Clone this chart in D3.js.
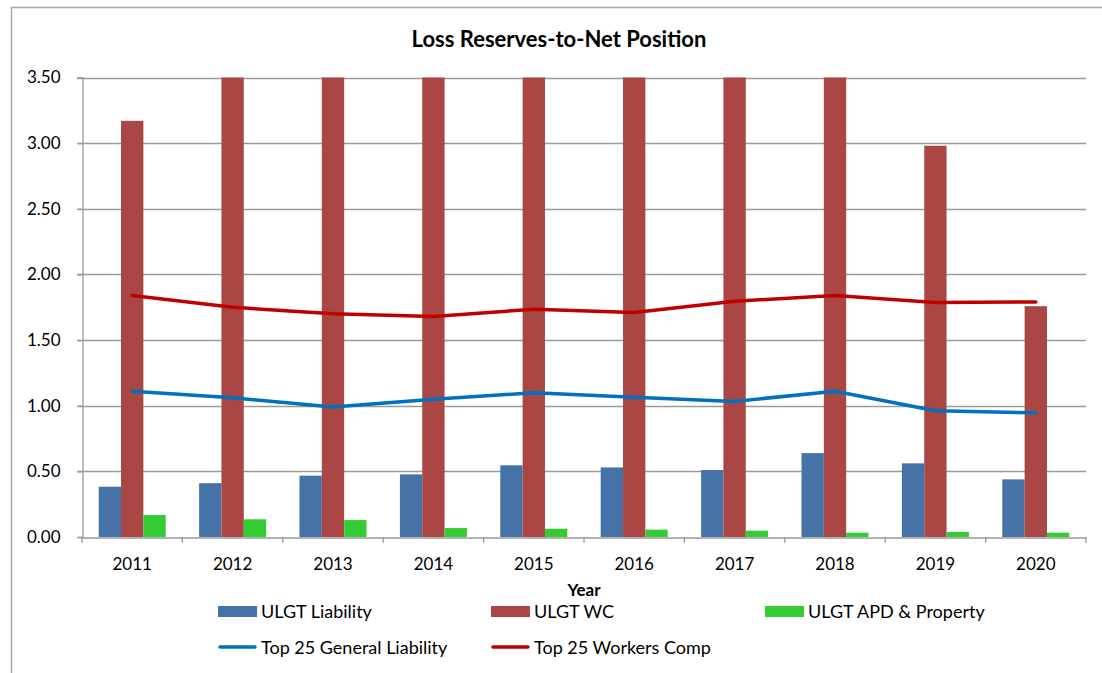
<!DOCTYPE html>
<html><head><meta charset="utf-8">
<script src="https://cdn.jsdelivr.net/npm/d3@7"></script>
<style>body{margin:0;background:#fff}text{font-family:Lato,"Open Sans",sans-serif;fill:#000}</style>
</head><body><svg id="c" width="1102" height="673"></svg>
<script>
const years = ["2011","2012","2013","2014","2015","2016","2017","2018","2019","2020"];
const ulgtLiability = [0.383,0.41,0.467,0.477,0.546,0.53,0.51,0.639,0.561,0.439];
const ulgtWC = [3.17,3.5,3.5,3.5,3.5,3.5,3.5,3.5,2.98,1.758];
const ulgtAPD = [0.167,0.135,0.129,0.068,0.063,0.056,0.048,0.033,0.038,0.033];
const top25GL = [1.11,1.06,0.99,1.05,1.098,1.065,1.033,1.11,0.961,0.946];
const top25WC = [1.84,1.75,1.70,1.68,1.735,1.71,1.795,1.84,1.786,1.79];
const yTicks = [0,0.5,1,1.5,2,2.5,3,3.5];

const svg = d3.select("#c");
const L=82,R=1086,T=77.5,B=537;
const x = d3.scaleBand().domain(years).range([L,R]).paddingInner(0).paddingOuter(0);
const y = d3.scaleLinear().domain([0,3.5]).range([B,T]).clamp(true);
const grid="#9a9a9a";

// outer border
svg.append("path").attr("d","M11.5,673V7.5H1102").attr("fill","none").attr("stroke","#a6a6a6").attr("stroke-width",1.5);

// gridlines
svg.append("g").selectAll("line").data(yTicks.filter(d=>d>0)).join("line")
  .attr("x1",L-5).attr("x2",R).attr("y1",d=>Math.round(y(d))+0.5).attr("y2",d=>Math.round(y(d))+0.5)
  .attr("stroke",grid).attr("stroke-width",1.3);

// y axis
const ya = svg.append("g").attr("transform",`translate(${L+0.5},0)`)
  .call(d3.axisLeft(y).tickValues(yTicks).tickFormat(d3.format(".2f")).tickSize(5).tickPadding(17));
ya.select(".domain").attr("stroke",grid).attr("stroke-width",1.3);
ya.selectAll("line").attr("stroke",grid).attr("stroke-width",1.3);
ya.selectAll("text").style("font-size","17px").attr("fill","#000");

// bars
const sub = d3.scaleBand().domain(["a","b","c"]).range([0,67]);
const off = (x.bandwidth()-67)/2;
const series=[["a",ulgtLiability,"#4572A7"],["b",ulgtWC,"#AA4643"],["c",ulgtAPD,"#33CC33"]];
series.forEach(([k,vals,col])=>{
  svg.append("g").selectAll("rect").data(years).join("rect")
    .attr("x",(d)=>x(d)+off+sub(k)).attr("width",sub.bandwidth())
    .attr("y",(d,i)=>y(vals[i])).attr("height",(d,i)=>B-y(vals[i]))
    .attr("fill",col);
});

// x axis
const xa = svg.append("g").attr("transform",`translate(0,${B+0.5})`)
  .call(d3.axisBottom(x).tickSize(0).tickPadding(20));
xa.select(".domain").attr("stroke",grid).attr("stroke-width",1.3);
xa.selectAll("text").style("font-size","17px").attr("fill","#000");
svg.append("g").selectAll("line").data(years.concat(["end"])).join("line")
  .attr("x1",d=>d==="end"?R:x(d)).attr("x2",d=>d==="end"?R:x(d))
  .attr("y1",B).attr("y2",B+6).attr("stroke",grid).attr("stroke-width",1.3);

// lines
const line = d3.line().x((d,i)=>x(years[i])+x.bandwidth()/2).y(d=>y(d));
svg.append("path").datum(top25GL).attr("d",line).attr("fill","none").attr("stroke","#0070C0").attr("stroke-width",3.5).attr("stroke-linecap","round").attr("stroke-linejoin","round");
svg.append("path").datum(top25WC).attr("d",line).attr("fill","none").attr("stroke","#C00000").attr("stroke-width",3.5).attr("stroke-linecap","round").attr("stroke-linejoin","round");

// title
svg.append("text").attr("x",559).attr("y",47).attr("text-anchor","middle").style("font-size","22px").style("font-weight","bold").text("Loss Reserves-to-Net Position");
svg.append("text").attr("x",584).attr("y",596).attr("text-anchor","middle").style("font-size","17px").style("font-weight","bold").text("Year");

// legend
const leg=[
  {name:"ULGT Liability",type:"rect",col:"#4572A7",x:218,y:611},
  {name:"ULGT WC",type:"rect",col:"#AA4643",x:491,y:611},
  {name:"ULGT APD & Property",type:"rect",col:"#33CC33",x:765,y:611},
  {name:"Top 25 General Liability",type:"line",col:"#0070C0",x:218,y:647},
  {name:"Top 25 Workers Comp",type:"line",col:"#C00000",x:491,y:647}];
leg.forEach(l=>{
  if(l.type==="rect") svg.append("rect").attr("x",l.x).attr("y",l.y-5).attr("width",39).attr("height",11).attr("fill",l.col);
  else svg.append("line").attr("x1",l.x+2).attr("x2",l.x+37).attr("y1",l.y).attr("y2",l.y).attr("stroke",l.col).attr("stroke-width",3.5).attr("stroke-linecap","round");
  svg.append("text").attr("x",l.x+43).attr("y",l.y+6.5).style("font-size","18px").text(l.name);
});
</script></body></html>
